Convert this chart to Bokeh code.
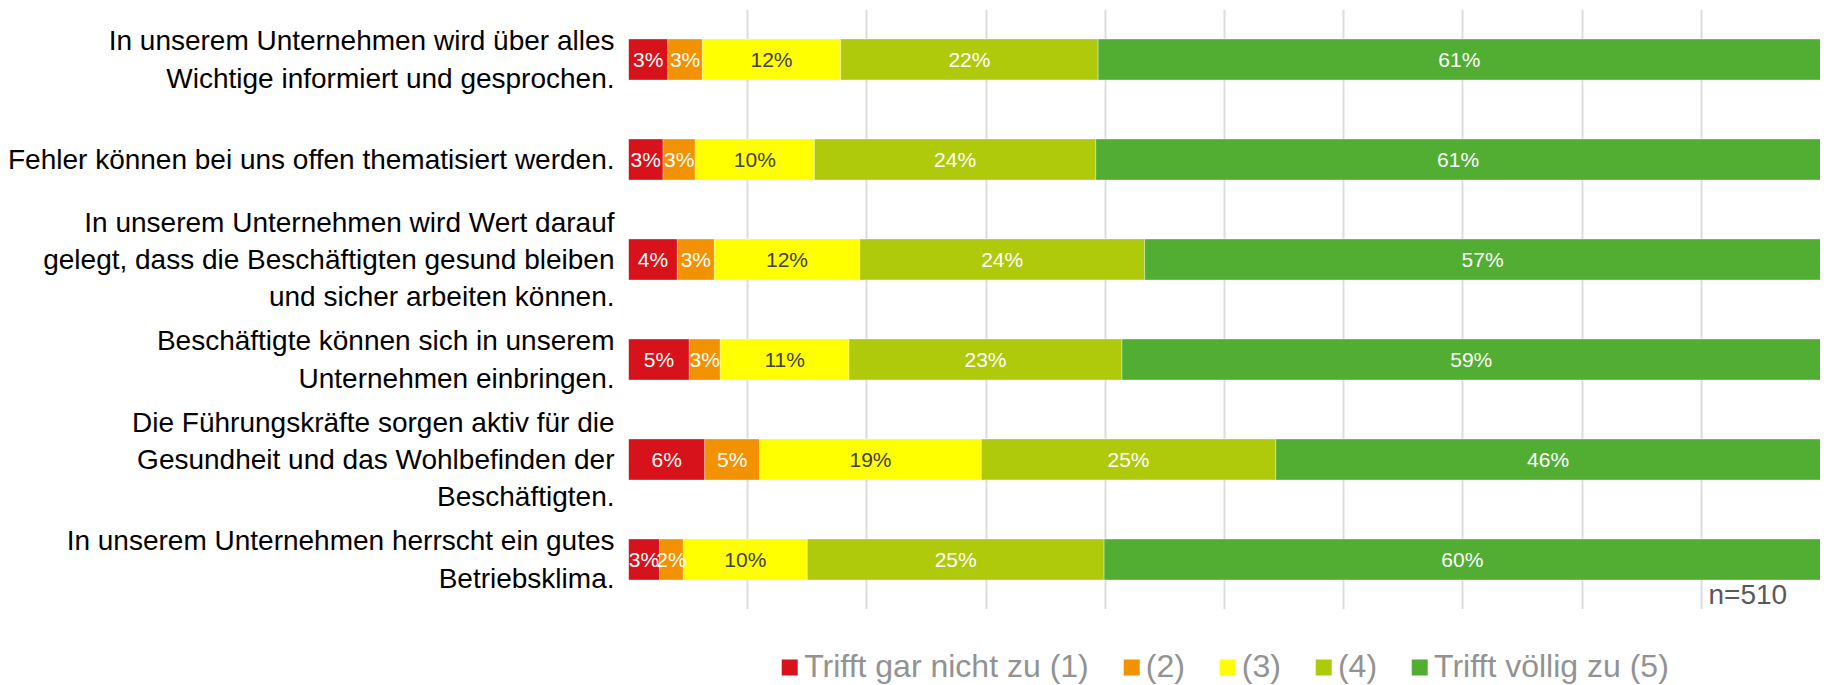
from bokeh.plotting import figure
from bokeh.layouts import column
from bokeh.models import (ColumnDataSource, FactorRange, FixedTicker, Legend,
                          LegendItem, Label, LabelSet)
from bokeh.core.properties import value
from bokeh.embed import file_html
from bokeh.resources import INLINE

# ---------------- data ----------------
statements = [
    "In unserem Unternehmen wird über alles\nWichtige informiert und gesprochen.",
    "Fehler können bei uns offen thematisiert werden.",
    "In unserem Unternehmen wird Wert darauf\ngelegt, dass die Beschäftigten gesund bleiben\nund sicher arbeiten können.",
    "Beschäftigte können sich in unserem\nUnternehmen einbringen.",
    "Die Führungskräfte sorgen aktiv für die\nGesundheit und das Wohlbefinden der\nBeschäftigten.",
    "In unserem Unternehmen herrscht ein gutes\nBetriebsklima.",
]
series_names = ["Trifft gar nicht zu (1)", "(2)", "(3)", "(4)", "Trifft völlig zu (5)"]
colors = ["#D7121A", "#F39200", "#FFFF00", "#AFCA0B", "#52AE32"]
label_colors = ["#FFFFFF", "#FFFFFF", "#404040", "#FFFFFF", "#FFFFFF"]

s1 = [3.3, 2.9, 4.1, 5.1, 6.4, 2.6]
s2 = [2.9, 2.7, 3.1, 2.6, 4.6, 2.0]
s3 = [11.6, 10.0, 12.2, 10.8, 18.6, 10.4]
s4 = [21.6, 23.6, 23.9, 22.9, 24.7, 24.9]
s5 = [60.6, 60.8, 56.7, 58.6, 45.7, 60.1]
series = [s1, s2, s3, s4, s5]
sample_note = "n=510"

FONT = "Liberation Sans"

# ---------------- main chart ----------------
p = figure(
    y_range=FactorRange(factors=list(reversed(statements))),
    x_range=(0, 100), x_axis_location=None,
    frame_width=1192, frame_height=600,
    min_border_left=628, min_border_right=0, min_border_top=9, min_border_bottom=0,
    output_backend="svg", toolbar_location=None,
    background_fill_color="white", border_fill_color="white",
)
p.outline_line_color = None

# grid lines every 10 %
p.xgrid.ticker = FixedTicker(ticks=list(range(0, 101, 10)))
p.xgrid.grid_line_color = "#DCDCDC"
p.xgrid.grid_line_width = 2
p.ygrid.visible = False

yax = p.yaxis[0]
yax.axis_line_color = None
yax.major_tick_line_color = None
yax.minor_tick_line_color = None
yax.major_label_text_font = FONT
yax.major_label_text_font_size = "28px"
yax.major_label_text_color = "#000000"
yax.major_label_standoff = 8
yax.major_label_text_line_height = 1.2

left = [0.0] * len(statements)
for name, vals, col, lcol in zip(series_names, series, colors, label_colors):
    right = [a + b for a, b in zip(left, vals)]
    src = ColumnDataSource(dict(
        cat=statements, left=left, right=right,
        mid=[(a + b) / 2 for a, b in zip(left, right)],
        txt=[f"{round(v)}%" for v in vals],
    ))
    p.hbar(y="cat", left="left", right="right", height=0.41, source=src,
           fill_color=col, line_color="white", line_alpha=0.35, line_width=1)
    p.add_layout(LabelSet(x="mid", y="cat", text="txt", source=src,
                          text_align="center", text_baseline="middle",
                          text_font=value(FONT), text_font_size="21px",
                          text_color=lcol))
    left = right

p.add_layout(Label(x=97.2, y=0.0, text=sample_note, text_align="right",
                   text_baseline="bottom", text_font=FONT,
                   text_font_size="28px", text_color="#595959"))

# ---------------- legend strip ----------------
p2 = figure(
    x_range=(0, 1), y_range=(0, 1), x_axis_location=None, y_axis_location=None,
    frame_width=1192, frame_height=76,
    min_border_left=628, min_border_right=0, min_border_top=0, min_border_bottom=0,
    output_backend="svg", toolbar_location=None,
    background_fill_color="white", border_fill_color="white",
)
p2.outline_line_color = None
p2.grid.visible = False

items = []
for name, col in zip(series_names, colors):
    # swatch renderer kept outside the visible range; only its legend entry shows
    r = p2.hbar(y=[-5], left=[0], right=[1], height=0.5, fill_color=col, line_color=None)
    items.append(LegendItem(label=name, renderers=[r]))

legend = Legend(items=items, orientation="horizontal", location="bottom_center",
                label_text_font=FONT, label_text_font_size="32px",
                label_text_color="#929292", glyph_width=20, glyph_height=20,
                label_standoff=5, spacing=32, padding=0, margin=0,
                border_line_alpha=0, background_fill_alpha=0)
p2.add_layout(legend)

layout = column(p, p2, spacing=0)
open("out.html", "w").write(file_html(layout, INLINE))
